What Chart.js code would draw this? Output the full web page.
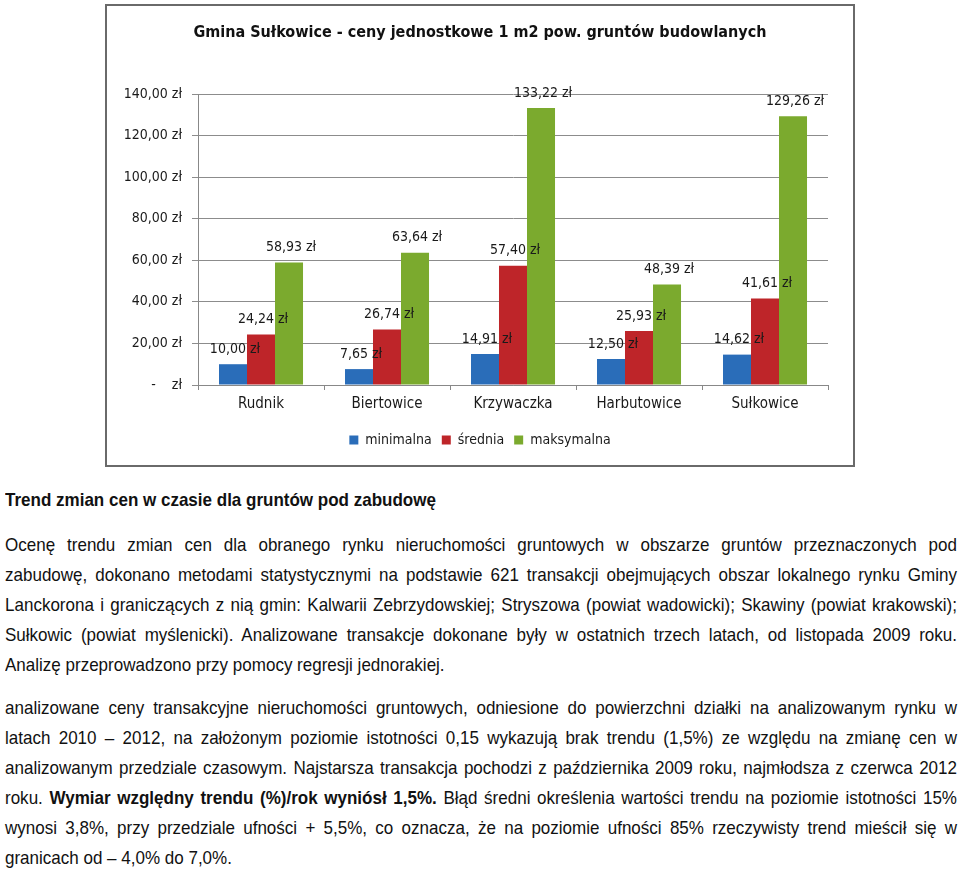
<!DOCTYPE html>
<html lang="pl">
<head>
<meta charset="utf-8">
<script src="https://cdn.jsdelivr.net/npm/chart.js@4"></script>
<style>
  html, body { margin: 0; padding: 0; background: #fff; }
  body { width: 960px; height: 871px; position: relative; overflow: hidden; color: #111; }
  #frame { position: absolute; left: 105px; top: 4px; width: 746px; height: 459px;
           border: 2px solid #6a6a6a; }
  #frame canvas { display: block; }
  .ln { position: absolute; left: 5px; height: 30px; line-height: 30px;
        font-family: "Liberation Sans", Arial, sans-serif; font-size: 19px;
        white-space: nowrap; transform-origin: 0 0; }
  .h { font-weight: bold; }
</style>
</head>
<body>
<div id="frame"><canvas id="c" width="746" height="459"></canvas></div>

<div class="ln h" style="top:485px"><span>Trend zmian cen w czasie dla gruntów pod zabudowę</span></div>

<div class="ln j" style="top:530px"><span>Ocenę trendu zmian cen dla obranego rynku nieruchomości gruntowych w obszarze gruntów przeznaczonych pod</span></div>
<div class="ln j" style="top:560px"><span>zabudowę, dokonano metodami statystycznymi na podstawie 621 transakcji obejmujących obszar lokalnego rynku Gminy</span></div>
<div class="ln j" style="top:590px"><span>Lanckorona i graniczących z nią gmin: Kalwarii Zebrzydowskiej; Stryszowa (powiat wadowicki); Skawiny (powiat krakowski);</span></div>
<div class="ln j" style="top:620px"><span>Sułkowic (powiat myślenicki). Analizowane transakcje dokonane były w ostatnich trzech latach, od listopada 2009 roku.</span></div>
<div class="ln" id="ref" style="top:650px"><span>Analizę przeprowadzono przy pomocy regresji jednorakiej.</span></div>

<div class="ln j" style="top:693px"><span>analizowane ceny transakcyjne nieruchomości gruntowych, odniesione do powierzchni działki na analizowanym rynku w</span></div>
<div class="ln j" style="top:723px"><span>latach 2010 – 2012, na założonym poziomie istotności 0,15 wykazują brak trendu (1,5%) ze względu na zmianę cen w</span></div>
<div class="ln j" style="top:753px"><span>analizowanym przedziale czasowym. Najstarsza transakcja pochodzi z października 2009 roku, najmłodsza z czerwca 2012</span></div>
<div class="ln j" style="top:783px"><span>roku. <b>Wymiar względny trendu (%)/rok wyniósł 1,5%.</b> Błąd średni określenia wartości trendu na poziomie istotności 15%</span></div>
<div class="ln j" style="top:813px"><span>wynosi 3,8%, przy przedziale ufności + 5,5%, co oznacza, że na poziomie ufności 85% rzeczywisty trend mieścił się w</span></div>
<div class="ln" style="top:843px"><span>granicach od – 4,0% do 7,0%.</span></div>

<script>
const chartTitle = 'Gmina Sułkowice - ceny jednostkowe 1 m2 pow. gruntów budowlanych';
const categories = ['Rudnik', 'Biertowice', 'Krzywaczka', 'Harbutowice', 'Sułkowice'];
const seriesNames = ['minimalna', 'średnia', 'maksymalna'];
const minimalna = [10.00, 7.65, 14.91, 12.50, 14.62];
const srednia = [24.24, 26.74, 57.40, 25.93, 41.61];
const maksymalna = [58.93, 63.64, 133.22, 48.39, 129.26];
const yMin = 0, yMax = 140, yStep = 20;

const seriesColors = ['#2A6DB9', '#BE2529', '#7BAA2E'];
const FONT = '"DejaVu Sans Condensed", "Liberation Sans", sans-serif';

// narrow-look text block: horizontally scale a regular sans and justify each line by word spacing
(function fitText() {
  const TEXT_W = 952;
  const refW = document.querySelector('#ref span').getBoundingClientRect().width;
  let s = 473 / refW;
  const jl = Array.from(document.querySelectorAll('.ln.j'));
  const widths = jl.map(el => el.querySelector('span').getBoundingClientRect().width);
  widths.forEach(w => { s = Math.min(s, (TEXT_W - 20) / w); });
  jl.forEach((el, i) => {
    const n = (el.textContent.match(/ /g) || []).length;
    el.style.wordSpacing = ((TEXT_W / s - widths[i]) / n) + 'px';
  });
  document.querySelectorAll('.ln').forEach(el => {
    el.style.transform = 'scaleX(' + s + ')';
  });
})();

function fmtZl(v) {
  if (v === 0) return '-    zł';
  return v.toFixed(2).replace('.', ',') + ' zł';
}

const valueLabels = {
  id: 'valueLabels',
  afterDatasetsDraw(chart) {
    const ctx = chart.ctx;
    ctx.save();
    ctx.font = '14px ' + FONT;
    ctx.fillStyle = '#1a1a1a';
    ctx.textAlign = 'center';
    ctx.textBaseline = 'bottom';
    chart.data.datasets.forEach((ds, di) => {
      const meta = chart.getDatasetMeta(di);
      meta.data.forEach((el, i) => {
        ctx.fillText(fmtZl(ds.data[i]), el.x + 2, el.y - 8);
      });
    });
    ctx.restore();
  }
};

new Chart(document.getElementById('c'), {
  type: 'bar',
  data: {
    labels: categories,
    datasets: [
      { label: seriesNames[0], data: minimalna, backgroundColor: seriesColors[0] },
      { label: seriesNames[1], data: srednia, backgroundColor: seriesColors[1] },
      { label: seriesNames[2], data: maksymalna, backgroundColor: seriesColors[2] }
    ]
  },
  options: {
    responsive: false,
    animation: false,
    devicePixelRatio: 1,
    categoryPercentage: 0.667,
    barPercentage: 1.0,
    layout: { padding: { left: 0, right: 0, top: 0, bottom: 8 } },
    plugins: {
      title: {
        display: true,
        text: chartTitle,
        color: '#111',
        font: { family: FONT, size: 16, weight: 'bold', lineHeight: 1.35 },
        padding: { top: 16, bottom: 50.4 }
      },
      legend: {
        position: 'bottom',
        labels: {
          font: { family: FONT, size: 14 },
          color: '#1a1a1a',
          boxWidth: 9, boxHeight: 9, padding: 10
        }
      },
      tooltip: { enabled: false }
    },
    scales: {
      x: {
        grid: { display: true, drawOnChartArea: false, drawTicks: true, tickLength: 5, color: '#888', offset: true },
        border: { display: true, color: '#888', width: 1 },
        ticks: { font: { family: FONT, size: 15 }, color: '#1a1a1a', padding: 5 },
        afterFit(scale) { scale.height = 38; }
      },
      y: {
        min: yMin, max: yMax,
        grid: { color: '#8c8c8c', tickLength: 6, drawTicks: true },
        border: { display: true, color: '#888', width: 1 },
        ticks: { stepSize: yStep, font: { family: FONT, size: 14 }, color: '#1a1a1a', padding: 10,
                 callback: (v) => fmtZl(v) },
        afterFit(scale) { scale.width = 91; }
      },
      yRight: {
        position: 'right',
        min: yMin, max: yMax,
        grid: { display: false, drawTicks: false },
        border: { display: false },
        ticks: { display: false },
        afterFit(scale) { scale.width = 25; }
      }
    }
  },
  plugins: [valueLabels]
});
</script>
</body>
</html>
